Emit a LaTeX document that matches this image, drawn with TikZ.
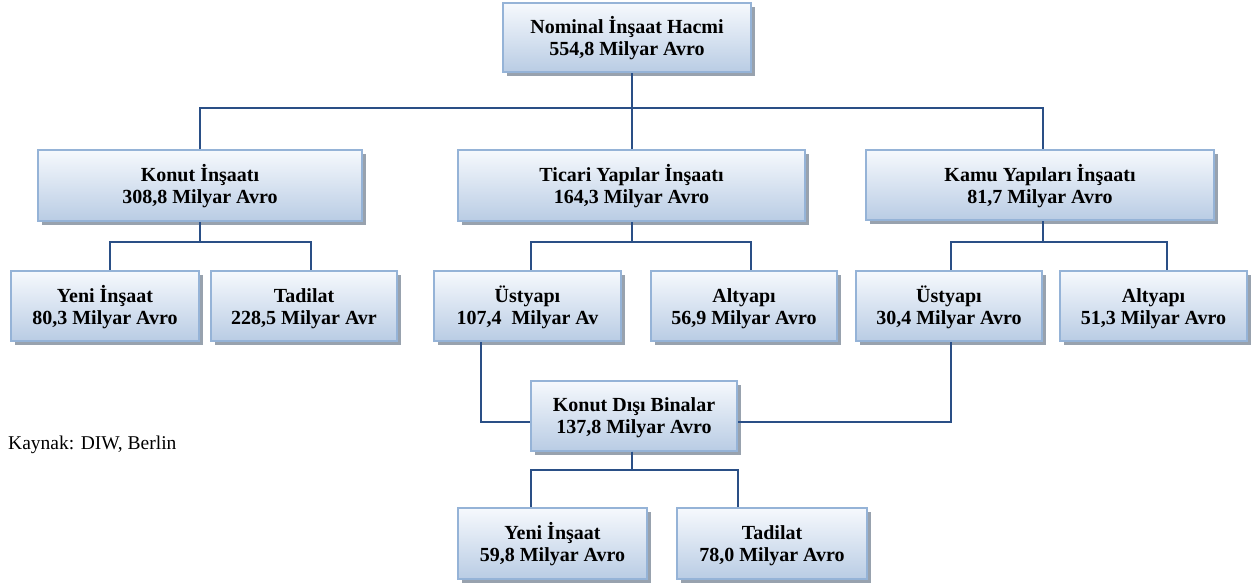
\documentclass[tikz,border=0pt]{standalone}
\usepackage{fontspec}
\setmainfont{Liberation Serif}
\usetikzlibrary{shadows}
\definecolor{bd}{HTML}{95B3D7}
\definecolor{tp}{HTML}{F6F9FD}
\definecolor{bt}{HTML}{B9CCE4}
\definecolor{ln}{HTML}{2A4F86}
\definecolor{sh}{HTML}{98A2AE}
\newcommand\myst{\rule{0pt}{18.5pt}}
\tikzset{
  bx/.style={draw=bd, line width=2pt, top color=tp, bottom color=bt,
    drop shadow={shadow xshift=4pt, shadow yshift=-4pt, fill=sh, opacity=1},
    align=center, font=\bfseries\fontsize{20}{22}\selectfont, inner sep=0pt,
    minimum height=69pt},
  cn/.style={draw=ln, line width=2pt},
  captext/.style={font=\fontsize{19.5}{22}\selectfont, inner sep=0pt, anchor=west}
}
\begin{document}
\begin{tikzpicture}[x=1pt,y=-1pt]
\useasboundingbox (0,0) rectangle (1252,584);
\node[bx, minimum width=248pt] (top) at (627,37.5) {\myst Nominal İnşaat Hacmi\\554,8 Milyar Avro};
\node[bx, minimum width=324pt, minimum height=71pt] (konut) at (200,185.5) {\myst Konut İnşaatı\\308,8 Milyar Avro};
\node[bx, minimum width=347pt, minimum height=71pt] (ticari) at (631.5,185.5) {\myst Ticari Yapılar İnşaatı\\164,3 Milyar Avro};
\node[bx, minimum width=348pt, minimum height=70pt] (kamu) at (1040,185) {\myst Kamu Yapıları İnşaatı\\81,7 Milyar Avro};

\node[bx, minimum width=188pt, minimum height=70pt] (yk) at (105,306) {\myst Yeni İnşaat\\80,3 Milyar Avro};
\node[bx, minimum width=186pt, minimum height=70pt] (tk) at (304,306) {\myst Tadilat\\228,5 Milyar Avr};
\node[bx, minimum width=187pt, minimum height=70pt] (ut) at (527.5,306) {\myst Üstyapı\\107,4~ Milyar Av};
\node[bx, minimum width=186pt, minimum height=70pt] (at) at (744,306) {\myst Altyapı\\56,9 Milyar Avro};
\node[bx, minimum width=186pt, minimum height=70pt] (uk) at (949,306) {\myst Üstyapı\\30,4 Milyar Avro};
\node[bx, minimum width=187pt, minimum height=70pt] (ak) at (1153.5,306) {\myst Altyapı\\51,3 Milyar Avro};

\node[bx, minimum width=206pt, minimum height=70pt] (kdb) at (634,415.5) {\myst Konut Dışı Binalar\\137,8 Milyar Avro};
\node[bx, minimum width=189pt, minimum height=71pt] (yb) at (552.5,543.5) {\myst Yeni İnşaat\\59,8 Milyar Avro};
\node[bx, minimum width=190pt, minimum height=71pt] (tb) at (772,543.5) {\myst Tadilat\\78,0 Milyar Avro};

\node[captext] (kaynak) at (8,445) {Kaynak: DIW, Berlin};

% level 1
\draw[cn] (ticari.north) -- (ticari.north |- top.south);
\draw[cn] (konut.north) -- (konut.north |- 0,108) -- ([xshift=3pt]kamu.north |- 0,108) -- ([xshift=3pt]kamu.north);
% konut children
\draw[cn] (konut.south) -- ++(0,20) -| ([xshift=5pt]yk.north);
\draw[cn] (konut.south) -- ++(0,20) -| ([xshift=7pt]tk.north);
% ticari children
\draw[cn] (ticari.south) -- ++(0,20) -| ([xshift=3.5pt]ut.north);
\draw[cn] (ticari.south) -- ++(0,20) -| ([xshift=7pt]at.north);
% kamu children
\draw[cn] ([xshift=3pt]kamu.south) -- ++(0,21) -| ([xshift=2pt]uk.north);
\draw[cn] ([xshift=3pt]kamu.south) -- ++(0,21) -| ([xshift=13.5pt]ak.north);
% to konut disi binalar
\draw[cn] ([xshift=-46.5pt]ut.south) |- ([yshift=-6pt]kdb.west);
\draw[cn] ([xshift=2pt]uk.south) |- ([yshift=-6pt]kdb.east);
% kdb children
\draw[cn] ([xshift=-2pt]kdb.south) -- ++(0,18) -| ([xshift=-21.5pt]yb.north);
\draw[cn] ([xshift=-2pt]kdb.south) -- ++(0,18) -| ([xshift=-34pt]tb.north);
\end{tikzpicture}
\end{document}
